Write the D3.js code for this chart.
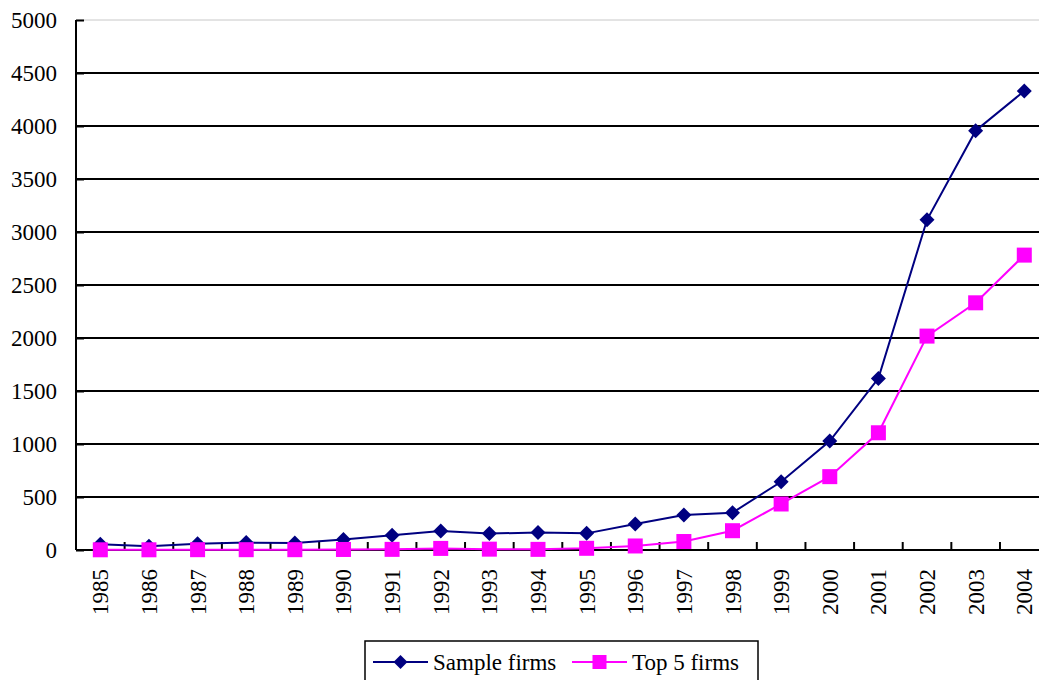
<!DOCTYPE html>
<html>
<head>
<meta charset="utf-8">
<script src="https://cdn.jsdelivr.net/npm/d3@7"></script>
</head>
<body style="margin:0">
<svg id="chart" width="1039" height="680" style="font-family:'Liberation Serif'"></svg>
<script>
// Years on the category axis
const years = ["1985","1986","1987","1988","1989","1990","1991","1992","1993","1994",
               "1995","1996","1997","1998","1999","2000","2001","2002","2003","2004"];
// Series values
const sampleFirms = [55, 35, 60, 70, 65, 100, 140, 180, 155, 165,
                     157, 245, 330, 352, 644, 1028, 1619, 3115, 3955, 4330];
const top5Firms = [2, 2, 3, 3, 3, 5, 6, 15, 8, 6,
                   16, 38, 80, 182, 434, 692, 1106, 2018, 2332, 2782];
// Value axis ticks
const yTicks = [0, 500, 1000, 1500, 2000, 2500, 3000, 3500, 4000, 4500, 5000];

const svg = d3.select("#chart");
const plotLeft = 76, plotRight = 1048.6, plotTop = 20, plotBottom = 550;

const x = d3.scaleBand().domain(years).range([plotLeft, plotRight]);
const y = d3.scaleLinear().domain([0, 5000]).range([plotBottom, plotTop]);
const cx = d => x(d) + x.bandwidth() / 2;

// Horizontal gridlines
svg.append("g").selectAll("line")
  .data(yTicks.filter(t => t > 0))
  .join("line")
  .attr("x1", plotLeft).attr("x2", plotRight)
  .attr("y1", d => y(d)).attr("y2", d => y(d))
  .attr("stroke", d => d === 5000 ? "#c8c8c8" : "#000")
  .attr("stroke-width", d => d === 5000 ? 1 : 2);

// Value axis (inside ticks)
const yAxis = d3.axisRight(y).tickValues(yTicks).tickSize(8).tickFormat("");
svg.append("g").attr("transform", `translate(${plotLeft},0)`).call(yAxis)
  .attr("font-family", null).attr("font-size", null)
  .call(g => g.select(".domain").attr("stroke", "#000").attr("stroke-width", 2)
                 .attr("d", `M0,${plotTop}V${plotBottom}`))
  .call(g => g.selectAll(".tick line").attr("stroke", "#000").attr("stroke-width", 2));

// Category axis baseline
const xAxis = d3.axisTop(x).tickSize(0).tickFormat("");
svg.append("g").attr("transform", `translate(0,${plotBottom})`).call(xAxis)
  .attr("font-family", null).attr("font-size", null)
  .call(g => g.select(".domain").attr("stroke", "#000").attr("stroke-width", 2)
                 .attr("d", `M${plotLeft},0H${plotRight}`));
// Tick marks at band boundaries pointing up into the plot
svg.append("g").selectAll("line")
  .data(years.slice(1))
  .join("line")
  .attr("x1", d => x(d)).attr("x2", d => x(d))
  .attr("y1", plotBottom).attr("y2", plotBottom - 8)
  .attr("stroke", "#000").attr("stroke-width", 2);

// Value labels
svg.selectAll("text.ylab")
  .data(yTicks)
  .join("text")
  .attr("class", "ylab")
  .attr("x", 57).attr("y", d => y(d) + 8)
  .attr("text-anchor", "end")
  .style("font-family", "'Liberation Serif'").style("font-size", "23px")
  .text(d => d);

// Rotated year labels
svg.selectAll("text.xlab")
  .data(years)
  .join("text")
  .attr("class", "xlab")
  .attr("transform", d => `translate(${cx(d) + 8},569) rotate(-90)`)
  .attr("text-anchor", "end")
  .style("font-family", "'Liberation Serif'").style("font-size", "23px")
  .text(d => d);

// Lines and markers
const line = d3.line().x((d, i) => cx(years[i])).y(d => y(d));

svg.append("path").datum(top5Firms)
  .attr("d", line).attr("fill", "none")
  .attr("stroke", "#ff00ff").attr("stroke-width", 2);
svg.append("path").datum(sampleFirms)
  .attr("d", line).attr("fill", "none")
  .attr("stroke", "#000080").attr("stroke-width", 2);

svg.append("g").selectAll("path")
  .data(sampleFirms)
  .join("path")
  .attr("d", "M0,-7.5L7.5,0L0,7.5L-7.5,0Z")
  .attr("transform", (d, i) => `translate(${cx(years[i])},${y(d)})`)
  .attr("fill", "#000080");

svg.append("g").selectAll("rect")
  .data(top5Firms)
  .join("rect")
  .attr("x", (d, i) => cx(years[i]) - 7.5)
  .attr("y", d => y(d) - 7.5)
  .attr("width", 15).attr("height", 15)
  .attr("fill", "#ff00ff");

// Legend
svg.append("rect").attr("x", 365).attr("y", 641).attr("width", 393).attr("height", 60)
  .attr("fill", "#fff").attr("stroke", "#000").attr("stroke-width", 1.5);
const legendItems = [
  { name: "Sample firms", color: "#000080", x0: 373, shape: "diamond" },
  { name: "Top 5 firms", color: "#ff00ff", x0: 572, shape: "square" }
];
const ly = 662;
legendItems.forEach(it => {
  svg.append("line").attr("x1", it.x0).attr("x2", it.x0 + 55)
    .attr("y1", ly).attr("y2", ly).attr("stroke", it.color).attr("stroke-width", 2);
  const mx = it.x0 + 27.5;
  if (it.shape === "diamond") {
    svg.append("path").attr("d", "M0,-7L7,0L0,7L-7,0Z")
      .attr("transform", `translate(${mx},${ly})`).attr("fill", it.color);
  } else {
    svg.append("rect").attr("x", mx - 7).attr("y", ly - 7)
      .attr("width", 14).attr("height", 14).attr("fill", it.color);
  }
});
svg.selectAll("text.leg")
  .data(legendItems)
  .join("text")
  .attr("class", "leg")
  .attr("x", d => d.x0 + 60).attr("y", ly + 8)
  .style("font-family", "'Liberation Serif'").style("font-size", "23px")
  .text(d => d.name);
</script>
</body>
</html>
